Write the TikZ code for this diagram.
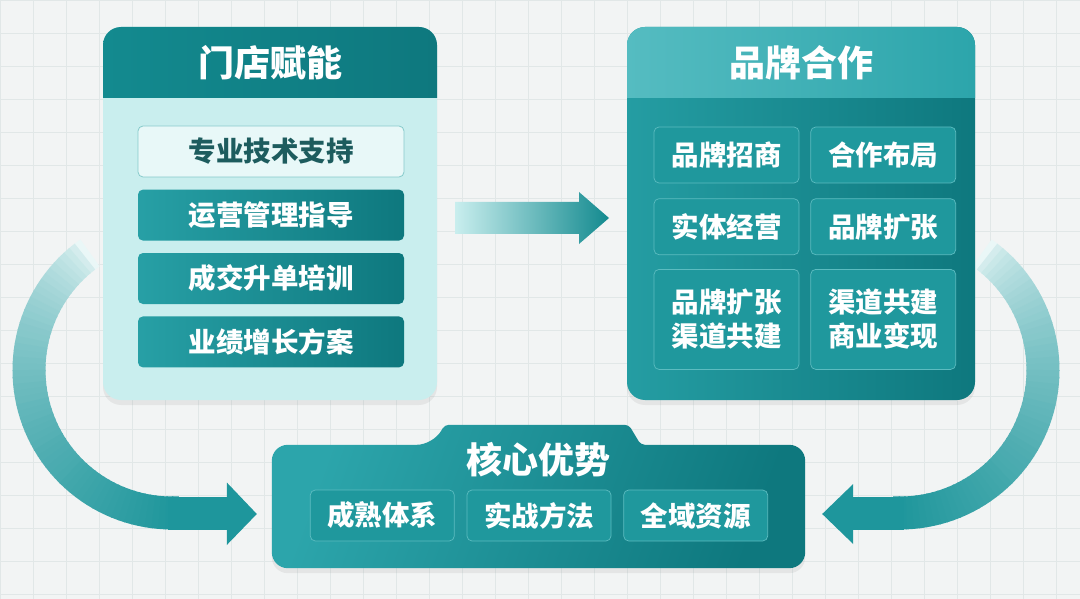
\documentclass[tikz,border=0pt]{standalone}
\usepackage{fontspec}
\setmainfont{Noto Sans CJK SC}
\usetikzlibrary{positioning, calc, shadows}
\definecolor{grund}{HTML}{F2F4F4}
\definecolor{raster}{HTML}{E1E7E7}
\definecolor{petrol}{HTML}{138A8F}
\definecolor{petroldunkel}{HTML}{0E787E}
\definecolor{petrolhell}{HTML}{2CA5AB}
\definecolor{kopfhell}{HTML}{55BCC1}
\definecolor{eis}{HTML}{C9EEEE}
\definecolor{eishell}{HTML}{E8F8F8}
\definecolor{eisrand}{HTML}{86CACB}
\definecolor{schrift}{HTML}{1D5C5E}
\definecolor{nebel}{HTML}{EAF7F7}
\definecolor{feldgrund}{HTML}{1F989D}
\definecolor{feldrand}{HTML}{5CBCC0}
\colorlet{bogenende}{petrolhell!45!petrol}

\begin{document}
\begin{tikzpicture}[x=1pt, y=-1pt,
      kasten/.style={rounded corners=18pt, inner sep=0pt,
        minimum width=334pt, minimum height=373pt,
        drop shadow={opacity=0.12, shadow xshift=0pt, shadow yshift=-5pt}},
      titel/.style={text=white, font=\fontsize{36}{42}\selectfont\bfseries},
      feld/.style={rounded corners=5pt, inner sep=0pt, align=center,
        minimum width=266pt, minimum height=51pt, text=white,
        font=\fontsize{27.5}{34}\selectfont\bfseries},
      felddunkel/.style={feld, left color=petrolhell!80!petrol, right color=petroldunkel},
      feldhell/.style={feld, fill=eishell, draw=eisrand, line width=0.8pt, text=schrift},
      zelle/.style={feld, fill=feldgrund, draw=feldrand, line width=0.7pt,
        minimum width=145pt, minimum height=56pt},
      bogen/.style={line width=33pt}]
    % Hintergrund mit Raster
    \useasboundingbox (0,0) rectangle (1080,599);
    \fill[grund] (0,0) rectangle (1080,599);
    \draw[raster, line width=0.6pt, step=33pt] (0,0) grid (1080,599);

    % Boegen hinter den Kaesten
    \coordinate (lb) at (172,370);
    \coordinate (rb) at (900,370);
    \foreach \i in {0,...,58} {
      \pgfmathsetmacro\w{235-2.5*\i}
      \pgfmathtruncatemacro\p{100*(\i/58)^0.55+0.5}
      \draw[bogen, bogenende!\p!nebel] (lb) ++(\w:143) arc[start angle=\w, end angle=\w-3, radius=143];
    }
    \foreach \i in {0,...,58} {
      \pgfmathsetmacro\w{-55+2.5*\i}
      \pgfmathtruncatemacro\p{100*(\i/58)^0.55+0.5}
      \draw[bogen, bogenende!\p!nebel] (rb) ++(\w:143) arc[start angle=\w, end angle=\w+3, radius=143];
    }

    % Kaesten
    \node[kasten, fill=eis,
      path picture={\shade[sharp corners, left color=petrol, right color=petroldunkel]
        (path picture bounding box.north west) rectangle ([yshift=-71pt]path picture bounding box.north east);}]
      (laden) at (270,213.5) {};
    \node[kasten, minimum width=348pt, left color=petrolhell!70!petrol, right color=petroldunkel,
      path picture={\shade[sharp corners, left color=kopfhell, right color=petrolhell]
        (path picture bounding box.north west) rectangle ([yshift=-71pt]path picture bounding box.north east);}]
      (marke) at (801,213.5) {};
    \node[titel] (ladentitel) at ([yshift=-36pt]laden.north) {门店赋能};
    \node[titel] (marketitel) at ([yshift=-36pt]marke.north) {品牌合作};

    % Felder links
    \node[feldhell] (l1) at (271,151.5) {专业技术支持};
    \node[felddunkel, below=12pt of l1] (l2) {运营管理指导};
    \node[felddunkel, below=12pt of l2] (l3) {成交升单培训};
    \node[felddunkel, below=12pt of l3] (l4) {业绩增长方案};

    % Felder rechts
    \node[zelle] (m1) at (726.5,155) {品牌招商};
    \node[zelle, right=11pt of m1] (m2) {合作布局};
    \node[zelle, below=15pt of m1] (m3) {实体经营};
    \node[zelle, right=11pt of m3] (m4) {品牌扩张};
    \node[zelle, below=14pt of m3, minimum height=100pt] (m5) {品牌扩张\\渠道共建};
    \node[zelle, right=11pt of m5, minimum height=100pt] (m6) {渠道共建\\商业变现};

    % Pfeil in der Mitte
    \coordinate (mitte) at ($(laden.east)!0.5!(marke.west)+(0,4.5)$);
    \shade[left color=eis, right color=petrol]
      ($(mitte)+(-77,-16)$) -- ($(mitte)+(47,-16)$) -- ($(mitte)+(47,-26)$) -- ($(mitte)+(77,0)$)
      -- ($(mitte)+(47,26)$) -- ($(mitte)+(47,16)$) -- ($(mitte)+(-77,16)$) -- cycle;

    % Kern unten
    \node[minimum width=533pt, minimum height=123pt, inner sep=0pt] (kern) at (538.5,506.5) {};
    \shade[left color=petrolhell, right color=petroldunkel, shading angle=70,
      drop shadow={opacity=0.12, shadow xshift=0pt, shadow yshift=-5pt}]
      (kern.west) [rounded corners=16pt] -- (kern.north west) -- ++(161,0) [rounded corners=4pt]
      -- ++(12,-20) -- ++(184,0) -- ++(12,20) [rounded corners=16pt] -- (kern.north east)
      -- (kern.south east) -- (kern.south west) -- cycle;
    \node[titel] (kerntitel) at (538,460) {核心优势};
    \node[zelle, minimum width=144pt, minimum height=51pt] (k2) at (539,515.5) {实战方法};
    \node[zelle, minimum width=144pt, minimum height=51pt, left=12pt of k2] (k1) {成熟体系};
    \node[zelle, minimum width=144pt, minimum height=51pt, right=12pt of k2] (k3) {全域资源};

    % Pfeilspitzen der Boegen
    \fill[bogenende] ($(lb)+(-4,126.5)$) rectangle ($(kern.west)+(-44,23)$);
    \fill[bogenende] ($(kern.west)+(-45,-24)$) -- ($(kern.west)+(-15,7.5)$) -- ($(kern.west)+(-45,38.5)$) -- cycle;
    \fill[bogenende] ($(kern.east)+(47,-10)$) rectangle ($(rb)+(4,159.5)$);
    \fill[bogenende] ($(kern.east)+(48,-22.5)$) -- ($(kern.east)+(17,7.5)$) -- ($(kern.east)+(48,37.5)$) -- cycle;
  \end{tikzpicture}
\end{document}
